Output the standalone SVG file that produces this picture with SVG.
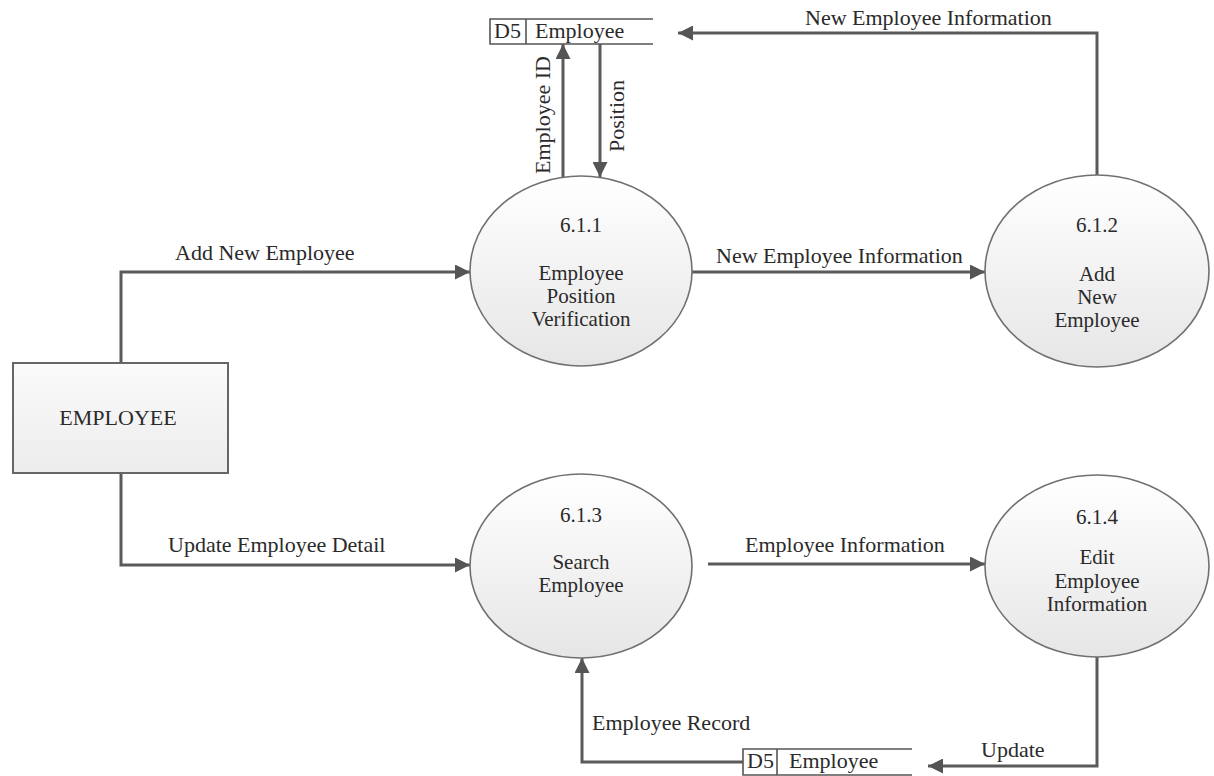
<svg xmlns="http://www.w3.org/2000/svg" width="1214" height="776" viewBox="0 0 1214 776">
  <style>
    text { font-size: 22px; fill: #2a2a2a; }
    .mid { text-anchor: middle; }
    .node { font-size: 21px; }
    .proc { fill: url(#procFill); stroke: #707070; stroke-width: 1.6; }
    .ext { fill: url(#extFill); stroke: #666; stroke-width: 2; }
    .store { fill: none; stroke: #555; stroke-width: 1.6; }
    .flow { fill: none; stroke: #5a5a5a; stroke-width: 3; marker-end: url(#arrow); }
  </style>
  <defs>
    <linearGradient id="procFill" x1="0" y1="0" x2="0" y2="1">
      <stop offset="0" stop-color="#ffffff"/>
      <stop offset="1" stop-color="#e6e6e6"/>
    </linearGradient>
    <linearGradient id="extFill" x1="0" y1="0" x2="0" y2="1">
      <stop offset="0" stop-color="#fbfbfb"/>
      <stop offset="1" stop-color="#ececec"/>
    </linearGradient>
    <marker id="arrow" viewBox="0 0 10 10" refX="10" refY="5" markerWidth="6" markerHeight="5" orient="auto" markerUnits="strokeWidth">
      <path d="M0,0 L10,5 L0,10 z" fill="#555"/>
    </marker>
  </defs>

  <rect width="1214" height="776" fill="#ffffff"/>

  <g font-family="Liberation Serif, serif">
    <!-- data flows -->
    <g id="connectors">
      <path class="flow" d="M121,363 V272 H470"/>
      <path class="flow" d="M121,473 V565 H470"/>
      <path class="flow" d="M563,178 V44"/>
      <path class="flow" d="M600,44 V177"/>
      <path class="flow" d="M692,272 H985"/>
      <path class="flow" d="M1097,175 V33 H678"/>
      <path class="flow" d="M708,564 H985"/>
      <path class="flow" d="M1097,657 V766 H928"/>
      <path class="flow" d="M743,762 H582 V658"/>

      <text x="175" y="260">Add New Employee</text>
      <text x="716" y="263">New Employee Information</text>
      <text x="805" y="25">New Employee Information</text>
      <text x="168" y="552">Update Employee Detail</text>
      <text x="745" y="552">Employee Information</text>
      <text x="592" y="730">Employee Record</text>
      <text x="981" y="757">Update</text>
      <text class="mid" transform="translate(550,115) rotate(-90)">Employee ID</text>
      <text class="mid" transform="translate(624,116) rotate(-90)">Position</text>
    </g>

    <!-- external entity -->
    <g id="employee">
      <rect class="ext" x="13" y="363" width="215" height="110"/>
      <text class="mid" x="118" y="425">EMPLOYEE</text>
    </g>

    <!-- processes -->
    <g id="p611" class="node">
      <ellipse class="proc" cx="581" cy="271" rx="111" ry="95"/>
      <text class="mid node" x="581" y="232">6.1.1</text>
      <text class="mid node" x="581" y="280">Employee</text>
      <text class="mid node" x="581" y="303">Position</text>
      <text class="mid node" x="581" y="326">Verification</text>
    </g>
    <g id="p612">
      <ellipse class="proc" cx="1097" cy="271" rx="112" ry="96"/>
      <text class="mid node" x="1097" y="232">6.1.2</text>
      <text class="mid node" x="1097" y="281">Add</text>
      <text class="mid node" x="1097" y="304">New</text>
      <text class="mid node" x="1097" y="327">Employee</text>
    </g>
    <g id="p613">
      <ellipse class="proc" cx="581" cy="566" rx="111" ry="92"/>
      <text class="mid node" x="581" y="522">6.1.3</text>
      <text class="mid node" x="581" y="569">Search</text>
      <text class="mid node" x="581" y="592">Employee</text>
    </g>
    <g id="p614">
      <ellipse class="proc" cx="1097" cy="566" rx="112" ry="91"/>
      <text class="mid node" x="1097" y="524">6.1.4</text>
      <text class="mid node" x="1097" y="564">Edit</text>
      <text class="mid node" x="1097" y="588">Employee</text>
      <text class="mid node" x="1097" y="611">Information</text>
    </g>

    <!-- data stores -->
    <g id="d5-top">
      <rect x="490" y="19" width="163" height="25" fill="#ffffff" stroke="none"/>
      <path class="store" d="M653,19 H490 V44 H653 M526,19 V44"/>
      <text x="494" y="38">D5</text>
      <text x="535" y="38">Employee</text>
    </g>
    <g id="d5-bottom">
      <rect x="743" y="749" width="169" height="26" fill="#ffffff" stroke="none"/>
      <path class="store" d="M912,749 H743 V775 H912 M777,749 V775"/>
      <text x="747" y="768">D5</text>
      <text x="789" y="768">Employee</text>
    </g>
  </g>
</svg>
